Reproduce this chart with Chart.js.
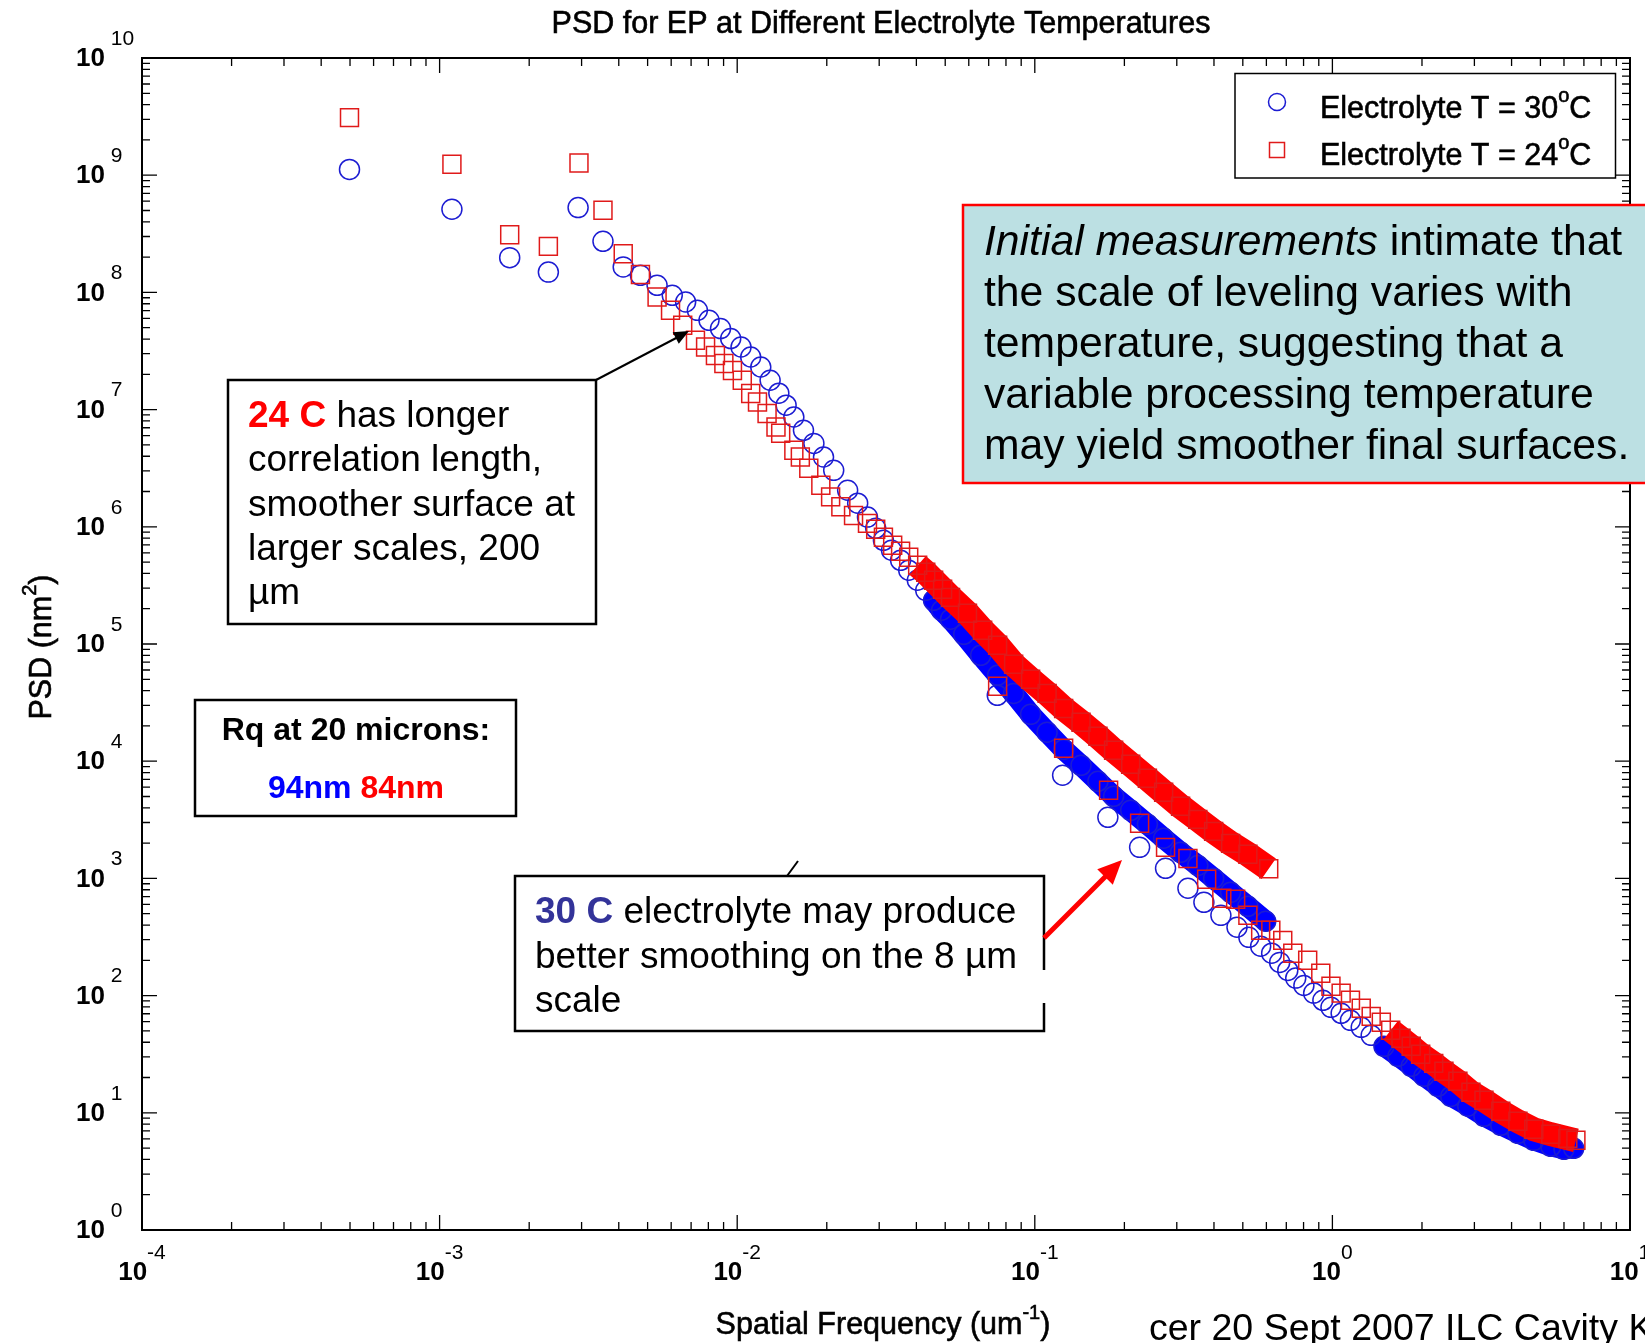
<!DOCTYPE html>
<html>
<head>
<meta charset="utf-8">
<title>PSD for EP at Different Electrolyte Temperatures</title>
<script src="https://cdn.jsdelivr.net/npm/chart.js@4.4.1/dist/chart.umd.min.js"></script>
<style>
  html, body { margin: 0; padding: 0; background: #fff; }
  #wrap { width: 1645px; height: 1343px; }
</style>
</head>
<body>
<div id="wrap"><canvas id="psd_chart" width="1645" height="1343"></canvas></div>
<script>
// spatial frequency (um^-1) / PSD (nm^2), 30 C electrolyte, long scan
const blueScanAFreq = [4.98e-4, 1.10e-3, 1.72e-3, 2.32e-3, 2.92e-3, 3.54e-3, 4.14e-3, 4.73e-3, 5.38e-3, 6.05e-3,
    6.71e-3, 7.35e-3, 8.04e-3, 8.79e-3, 9.51e-3, 1.03e-2, 1.11e-2, 1.20e-2, 1.29e-2, 1.38e-2,
    1.46e-2, 1.55e-2, 1.67e-2, 1.81e-2, 1.95e-2, 2.11e-2, 2.35e-2, 2.54e-2, 2.74e-2, 2.92e-2,
    3.10e-2, 3.30e-2, 3.54e-2, 3.77e-2, 4.03e-2, 4.30e-2, 4.57e-2, 4.86e-2, 5.21e-2, 5.77e-2,
    6.58e-2, 7.50e-2, 8.49e-2, 9.68e-2, 0.110, 0.125, 0.143, 0.163, 0.184, 0.210,
    0.239, 0.271, 0.309, 0.353, 0.399, 0.455, 0.520, 0.597];
const blueScanAPsd = [1.12e9, 5.12e8, 1.98e8, 1.49e8, 5.29e8, 2.73e8, 1.65e8, 1.40e8, 1.15e8, 9.45e7,
    8.28e7, 7.03e7, 5.78e7, 4.91e7, 4.04e7, 3.42e7, 2.81e7, 2.31e7, 1.78e7, 1.38e7,
    1.09e7, 8.65e6, 6.66e6, 5.15e6, 3.94e6, 3.03e6, 2.05e6, 1.59e6, 1.21e6, 9.71e5,
    7.67e5, 6.31e5, 5.18e5, 4.26e5, 3.50e5, 2.87e5, 2.36e5, 1.94e5, 1.63e5, 1.21e5,
    8.01e4, 5.41e4, 3.79e4, 2.51e4, 1.77e4, 1.26e4, 9.23e3, 6.74e3, 5.02e3, 3.81e3,
    2.90e3, 2.20e3, 1.67e3, 1.29e3, 1.00e3, 760, 578, 431];

// 30 C electrolyte, short scan
const blueScanBFreq = [7.48e-2, 0.124, 0.176, 0.225, 0.275, 0.327, 0.370, 0.422, 0.478, 0.524,
    0.574, 0.625, 0.665, 0.708, 0.753, 0.802, 0.865, 0.929, 0.989, 1.07,
    1.15, 1.25, 1.35, 1.49, 1.66, 1.84, 2.03, 2.26, 2.50, 2.85,
    3.23, 3.68, 4.20, 4.75, 5.42, 6.00, 6.47];
const blueScanBPsd = [3.65e4, 7.59e3, 3.32e3, 1.84e3, 1.22e3, 824, 625, 484, 383, 314,
    264, 230, 192, 164, 141, 122, 105, 91.2, 79.4, 70.6,
    61.5, 53.6, 45.8, 36.9, 30.3, 24.9, 20.5, 16.8, 13.8, 11.4,
    9.33, 7.82, 6.68, 5.82, 5.18, 4.88, 4.98];

// 24 C electrolyte, long scan
const redScanAFreq = [4.98e-4, 1.10e-3, 1.72e-3, 2.32e-3, 2.94e-3, 3.54e-3, 4.14e-3, 4.73e-3, 5.38e-3, 5.97e-3,
    6.56e-3, 7.24e-3, 7.83e-3, 8.45e-3, 9.02e-3, 9.64e-3, 1.04e-2, 1.11e-2, 1.17e-2, 1.26e-2,
    1.35e-2, 1.40e-2, 1.55e-2, 1.63e-2, 1.74e-2, 1.91e-2, 2.06e-2, 2.23e-2, 2.46e-2, 2.74e-2,
    2.92e-2, 3.10e-2, 3.33e-2, 3.54e-2, 3.77e-2, 4.04e-2, 4.30e-2, 4.57e-2, 4.90e-2, 5.21e-2,
    5.94e-2, 6.68e-2, 7.50e-2, 8.49e-2, 9.68e-2, 0.110, 0.125, 0.143, 0.163, 0.184,
    0.210, 0.239, 0.271, 0.309, 0.353, 0.399, 0.455, 0.520, 0.611];
const redScanAPsd = [3.10e9, 1.24e9, 3.11e8, 2.47e8, 1.27e9, 5.02e8, 2.14e8, 1.42e8, 9.14e7, 7.03e7,
    5.24e7, 3.90e7, 3.42e7, 2.90e7, 2.47e7, 2.16e7, 1.78e7, 1.37e7, 1.16e7, 9.25e6,
    7.11e6, 6.28e6, 4.50e6, 3.94e6, 3.16e6, 2.26e6, 1.80e6, 1.48e6, 1.25e6, 1.07e6,
    9.52e5, 8.13e5, 6.95e5, 6.18e5, 5.50e5, 4.69e5, 4.09e5, 3.50e5, 2.93e5, 2.50e5,
    1.83e5, 1.31e5, 9.75e4, 6.71e4, 5.00e4, 3.79e4, 2.82e4, 2.15e4, 1.63e4, 1.24e4,
    9.40e3, 7.14e3, 5.43e3, 4.12e3, 3.19e3, 2.52e3, 1.99e3, 1.61e3, 1.21e3];

// 24 C electrolyte, short scan
const redScanBFreq = [7.50e-2, 0.125, 0.177, 0.225, 0.275, 0.327, 0.378, 0.425, 0.473, 0.520,
    0.574, 0.621, 0.681, 0.736, 0.826, 0.914, 0.989, 1.07, 1.15, 1.25,
    1.35, 1.46, 1.57, 1.70, 1.84, 1.98, 2.19, 2.37, 2.64, 2.92,
    3.23, 3.68, 4.20, 4.75, 5.42, 6.18, 6.58];
const redScanBPsd = [4.36e4, 1.29e4, 5.65e3, 2.95e3, 1.84e3, 1.48e3, 982, 676, 664, 484,
    361, 361, 296, 230, 200, 155, 120, 105, 91.2, 78.0,
    66.5, 59.2, 50.6, 43.3, 36.9, 31.6, 26.4, 22.6, 18.6, 15.0,
    12.8, 10.3, 8.46, 7.23, 6.56, 6.05, 5.82];

// axis decades (exponents of 10)
const xDecadeExps = [-4, -3, -2, -1, 0, 1];
const yDecadeExps = [0, 1, 2, 3, 4, 5, 6, 7, 8, 9, 10];

const seriesLabels = ['Electrolyte T = 30', 'Electrolyte T = 24'];

const BLUE = '#1c1cd2', BLUE_FILL = '#0000ff';
const RED = '#e01a1a', RED_FILL = '#ff0000';
const FONT = '"Liberation Sans", Arial, sans-serif';

const pts = (fs, ps) => fs.map((f, i) => ({x: f, y: ps[i]}));
// where the markers pile up into a solid band
const band = (fs, ps, fMin) => pts(fs, ps).filter(p => p.x >= fMin);

// draw text pieces one after another; heavy adds a thin outline
function runs(ctx, parts, x, y, heavy) {
    let cx = x;
    for (const p of parts) {
        ctx.font = p.font;
        ctx.fillStyle = p.color || '#000';
        ctx.fillText(p.t, cx, y + (p.dy || 0));
        if (heavy) {
            ctx.strokeStyle = p.color || '#000';
            ctx.lineWidth = heavy;
            ctx.strokeText(p.t, cx, y + (p.dy || 0));
        }
        cx += ctx.measureText(p.t).width;
    }
    return cx;
}
function runsWidth(ctx, parts) {
    let w = 0;
    for (const p of parts) { ctx.font = p.font; w += ctx.measureText(p.t).width; }
    return w;
}

function arrowHead(ctx, x0, y0, x1, y1, len, half) {
    const ang = Math.atan2(y1 - y0, x1 - x0);
    ctx.beginPath();
    ctx.moveTo(x1, y1);
    ctx.lineTo(x1 - len * Math.cos(ang) + half * Math.sin(ang), y1 - len * Math.sin(ang) - half * Math.cos(ang));
    ctx.lineTo(x1 - len * Math.cos(ang) - half * Math.sin(ang), y1 - len * Math.sin(ang) + half * Math.cos(ang));
    ctx.closePath();
    ctx.fill();
}

const decor = {
    id: 'decor',
    afterDraw(chart) {
        const {ctx, chartArea: a, scales: {x, y}} = chart;
        ctx.save();
        ctx.textBaseline = 'alphabetic';

        // axes box
        ctx.strokeStyle = '#000';
        ctx.lineWidth = 2;
        ctx.strokeRect(a.left, a.top, a.right - a.left, a.bottom - a.top);

        // inward ticks on all four sides
        ctx.lineWidth = 1.3;
        ctx.beginPath();
        for (let i = 0; i < xDecadeExps.length - 1; i++) {
            for (let k = 1; k <= 9; k++) {
                const px = x.getPixelForValue(k * Math.pow(10, xDecadeExps[i]));
                const len = k === 1 ? 15 : 8;
                ctx.moveTo(px, a.bottom); ctx.lineTo(px, a.bottom - len);
                ctx.moveTo(px, a.top); ctx.lineTo(px, a.top + len);
            }
        }
        for (let i = 0; i < yDecadeExps.length - 1; i++) {
            for (let k = 1; k <= 9; k++) {
                const py = y.getPixelForValue(k * Math.pow(10, yDecadeExps[i]));
                const len = k === 1 ? 15 : 8;
                ctx.moveTo(a.left, py); ctx.lineTo(a.left + len, py);
                ctx.moveTo(a.right, py); ctx.lineTo(a.right - len, py);
            }
        }
        ctx.stroke();

        // tick labels 10^n
        const baseFont = 'bold 26px ' + FONT, expFont = '21px ' + FONT;
        ctx.textBaseline = 'middle';
        yDecadeExps.forEach(e => {
            const py = y.getPixelForValue(Math.pow(10, e));
            runs(ctx, [{t: '10', font: baseFont}, {t: ' ' + e, font: expFont, dy: -20}], 76, py + 1);
        });
        xDecadeExps.forEach(e => {
            const px = x.getPixelForValue(Math.pow(10, e));
            const parts = [{t: '10', font: baseFont}, {t: String(e), font: expFont, dy: -20}];
            const w = runsWidth(ctx, parts);
            runs(ctx, parts, px - w / 2, 1273);
        });
        ctx.textBaseline = 'alphabetic';

        // title and axis titles
        const tFont = '30.5px ' + FONT, supFont = '20px ' + FONT;
        const tt = [{t: 'PSD for EP at Different Electrolyte Temperatures', font: tFont}];
        runs(ctx, tt, 881 - runsWidth(ctx, tt) / 2, 33, 0.6);

        const xt = [{t: 'Spatial Frequency (um', font: tFont}, {t: '-1', font: supFont, dy: -15}, {t: ')', font: tFont}];
        runs(ctx, xt, 883 - runsWidth(ctx, xt) / 2, 1334, 0.6);

        const yt = [{t: 'PSD (nm', font: tFont}, {t: '2', font: supFont, dy: -15}, {t: ')', font: tFont}];
        ctx.save();
        ctx.translate(51, 647);
        ctx.rotate(-Math.PI / 2);
        runs(ctx, yt, -runsWidth(ctx, yt) / 2, 0, 0.6);
        ctx.restore();

        runs(ctx, [{t: 'cer 20 Sept 2007 ILC Cavity K', font: '37.5px ' + FONT}], 1149, 1340);

        // legend
        ctx.fillStyle = '#fff';
        ctx.fillRect(1235, 73.5, 380.5, 104.5);
        ctx.strokeStyle = '#000';
        ctx.lineWidth = 1.5;
        ctx.strokeRect(1235, 73.5, 380.5, 104.5);
        const ds = chart.data.datasets;
        ctx.lineWidth = 1.5;
        ctx.strokeStyle = ds[3].borderColor;
        ctx.beginPath(); ctx.arc(1277, 102, 8.5, 0, Math.PI * 2); ctx.stroke();
        ctx.strokeStyle = ds[0].borderColor;
        ctx.strokeRect(1269.5, 142.5, 15, 15);
        [[seriesLabels[0], 118], [seriesLabels[1], 165]].forEach(([txt, by]) => {
            runs(ctx, [{t: txt, font: tFont}, {t: 'o', font: '20px ' + FONT, dy: -16}, {t: 'C', font: tFont}], 1320, by, 0.6);
        });

        // note on the right
        ctx.fillStyle = 'rgb(188,224,227)';
        ctx.fillRect(963, 205, 700, 278);
        ctx.strokeStyle = '#ff0000';
        ctx.lineWidth = 2.5;
        ctx.strokeRect(963, 205, 700, 278);
        const nf = '42.7px ' + FONT;
        runs(ctx, [{t: 'Initial measurements', font: 'italic ' + nf}, {t: ' intimate that', font: nf}], 984, 255);
        ['the scale of leveling varies with', 'temperature, suggesting that a',
         'variable processing temperature', 'may yield smoother final surfaces.']
            .forEach((s, i) => runs(ctx, [{t: s, font: nf}], 984, 306 + i * 51));

        // 24 C note with arrow
        ctx.fillStyle = '#fff';
        ctx.fillRect(228, 380, 368, 244);
        ctx.strokeStyle = '#000';
        ctx.lineWidth = 2.5;
        ctx.strokeRect(228, 380, 368, 244);
        const bf = '37px ' + FONT;
        runs(ctx, [{t: '24 C', font: 'bold ' + bf, color: '#ff0000'}, {t: ' has longer', font: bf}], 248, 427);
        ['correlation length,', 'smoother surface at', 'larger scales, 200', '\u00b5m']
            .forEach((s, i) => runs(ctx, [{t: s, font: bf}], 248, [471, 516, 560, 604][i]));
        ctx.strokeStyle = '#000';
        ctx.lineWidth = 2;
        ctx.beginPath(); ctx.moveTo(596, 380); ctx.lineTo(680, 336); ctx.stroke();
        ctx.fillStyle = '#000';
        arrowHead(ctx, 596, 380, 689, 331, 15, 6.5);

        // Rq box
        ctx.fillStyle = '#fff';
        ctx.fillRect(195, 700, 321, 116);
        ctx.lineWidth = 2.5;
        ctx.strokeRect(195, 700, 321, 116);
        const rf = 'bold 32px ' + FONT;
        const r1 = [{t: 'Rq at 20 microns:', font: rf}];
        runs(ctx, r1, 356 - runsWidth(ctx, r1) / 2, 740);
        const r2 = [{t: '94nm', font: rf, color: '#0000ff'}, {t: ' ', font: rf}, {t: '84nm', font: rf, color: '#ff0000'}];
        runs(ctx, r2, 356 - runsWidth(ctx, r2) / 2, 798);

        // 30 C note with red arrow
        ctx.fillStyle = '#fff';
        ctx.fillRect(515, 876, 529, 155);
        ctx.strokeStyle = '#000';
        ctx.lineWidth = 2.5;
        ctx.beginPath();
        ctx.moveTo(1044, 970); ctx.lineTo(1044, 876); ctx.lineTo(515, 876);
        ctx.lineTo(515, 1031); ctx.lineTo(1044, 1031); ctx.lineTo(1044, 1003);
        ctx.stroke();
        runs(ctx, [{t: '30 C', font: 'bold ' + bf, color: '#333399'}, {t: ' electrolyte may produce', font: bf}], 535, 923);
        runs(ctx, [{t: 'better smoothing on the 8 \u00b5m', font: bf}], 535, 968);
        runs(ctx, [{t: 'scale', font: bf}], 535, 1012);
        ctx.lineWidth = 2;
        ctx.beginPath(); ctx.moveTo(787, 876); ctx.lineTo(798, 861); ctx.stroke();
        ctx.strokeStyle = '#ff0000';
        ctx.fillStyle = '#ff0000';
        ctx.lineWidth = 5;
        ctx.beginPath(); ctx.moveTo(1044, 938); ctx.lineTo(1108, 874); ctx.stroke();
        arrowHead(ctx, 1044, 938, 1122, 860, 24, 11);

        ctx.restore();
    }
};

new Chart(document.getElementById('psd_chart'), {
    type: 'scatter',
    data: {
        datasets: [
            {
                label: seriesLabels[1],
                data: pts(redScanAFreq, redScanAPsd).concat(pts(redScanBFreq, redScanBPsd)),
                pointStyle: 'rect', pointRadius: 12.7, borderWidth: 1.5,
                borderColor: RED, backgroundColor: 'rgba(0,0,0,0)', order: 0
            },
            {
                data: band(redScanAFreq, redScanAPsd, 4.04e-2), showLine: true,
                borderColor: RED_FILL, borderWidth: 25, pointRadius: 0, order: 1
            },
            {
                data: band(redScanBFreq, redScanBPsd, 1.57), showLine: true,
                borderColor: RED_FILL, borderWidth: 24, pointRadius: 0, order: 1
            },
            {
                label: seriesLabels[0],
                data: pts(blueScanAFreq, blueScanAPsd).concat(pts(blueScanBFreq, blueScanBPsd)),
                pointStyle: 'circle', pointRadius: 10, borderWidth: 1.5,
                borderColor: BLUE, backgroundColor: 'rgba(0,0,0,0)', order: 2
            },
            {
                data: band(blueScanAFreq, blueScanAPsd, 4.57e-2), showLine: true, borderCapStyle: 'round',
                borderColor: BLUE_FILL, borderWidth: 21, pointRadius: 0, order: 3
            },
            {
                data: band(blueScanBFreq, blueScanBPsd, 1.49), showLine: true, borderCapStyle: 'round',
                borderColor: BLUE_FILL, borderWidth: 20, pointRadius: 0, order: 3
            }
        ]
    },
    options: {
        responsive: false,
        animation: false,
        events: [],
        layout: {padding: {left: 142, top: 58, right: 15, bottom: 113}},
        plugins: {legend: {display: false}, tooltip: {enabled: false}},
        scales: {
            x: {type: 'logarithmic', min: 1e-4, max: 10, display: false},
            y: {type: 'logarithmic', min: 1, max: 1e10, display: false}
        }
    },
    plugins: [decor]
});
</script>
</body>
</html>
